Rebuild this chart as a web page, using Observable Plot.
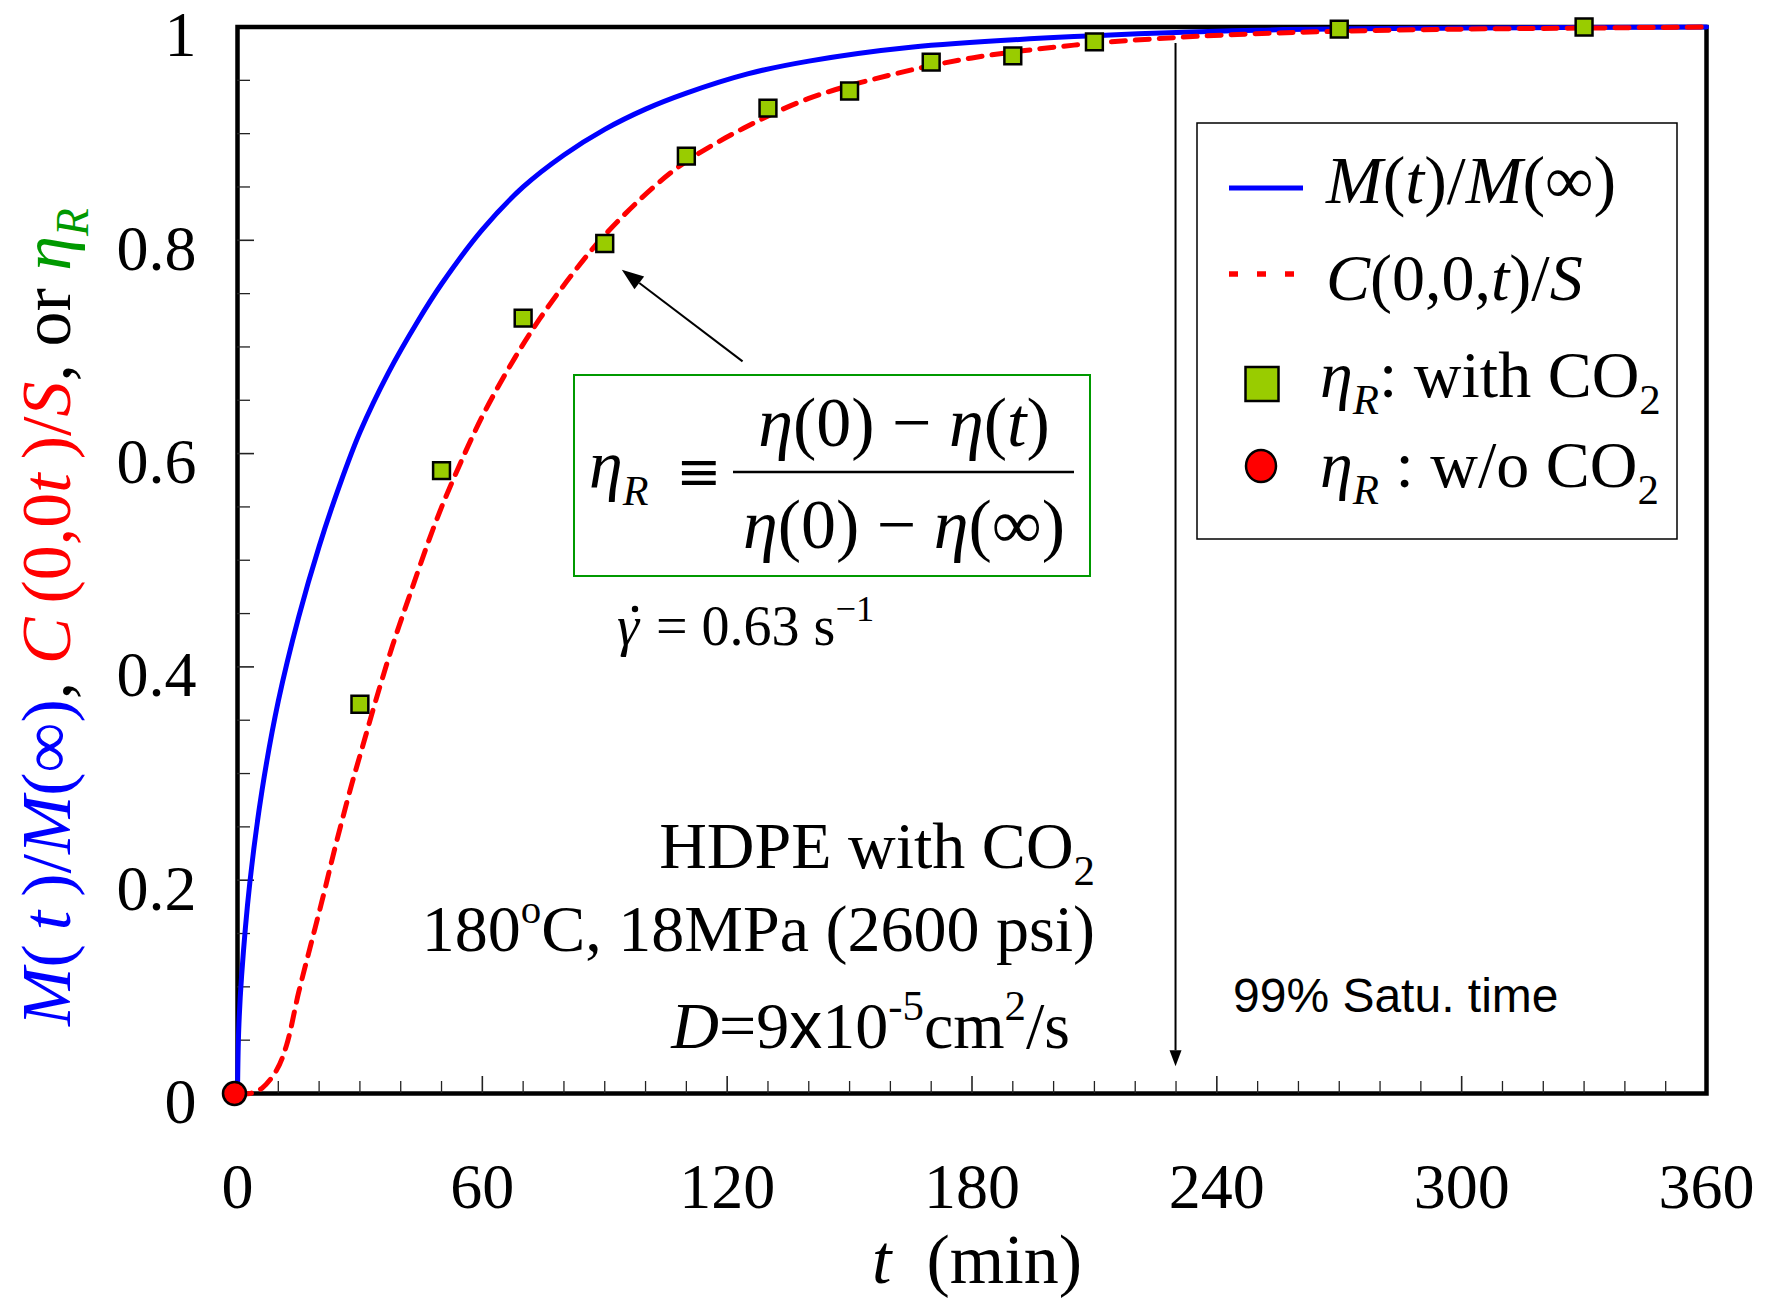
<!DOCTYPE html>
<html><head><meta charset="utf-8">
<script src="https://cdn.jsdelivr.net/npm/d3@7"></script>
<script src="https://cdn.jsdelivr.net/npm/@observablehq/plot@0.6"></script>
<style>
body{margin:0;background:#fff;}
#chart{width:1773px;height:1299px;}
</style></head><body><div id="chart"></div>
<script>
// ---- data ----
const blueT = [0, 0.3, 1, 3, 6, 10, 15, 20, 25, 30, 37, 44, 50, 60, 70, 80, 90, 100, 110, 125, 140, 165, 205, 250, 300, 360];
const blueV = [0, 0.06, 0.11, 0.197, 0.284, 0.368, 0.447, 0.513, 0.57, 0.62, 0.676, 0.723, 0.759, 0.81, 0.85, 0.88, 0.904, 0.923, 0.938, 0.956, 0.968, 0.981, 0.991, 0.997, 0.999, 1.0];
const redT = [0, 3, 6, 9.6, 12, 15, 18, 21, 24, 28, 31, 34, 38, 42, 48, 52, 60, 68, 74, 82, 90, 102, 110, 124, 140, 160, 180, 205, 225, 245, 270, 300, 330, 360];
const redV = [0, 0, 0.005, 0.022, 0.045, 0.095, 0.14, 0.185, 0.232, 0.29, 0.33, 0.37, 0.42, 0.465, 0.53, 0.568, 0.635, 0.69, 0.726, 0.768, 0.805, 0.85, 0.874, 0.905, 0.933, 0.955, 0.971, 0.983, 0.989, 0.993, 0.996, 0.998, 0.999, 1.0];
const withCO2T = [30, 50, 70, 90, 110, 130, 150, 170, 190, 210, 270, 330];
const withCO2V = [0.365, 0.584, 0.727, 0.797, 0.879, 0.924, 0.940, 0.967, 0.973, 0.986, 0.998, 1.0];
const withoutCO2T = [0];
const withoutCO2V = [0];
const xTickValues = [0, 60, 120, 180, 240, 300, 360];
const xTickLabels = ["0", "60", "120", "180", "240", "300", "360"];
const yTickValues = [0, 0.2, 0.4, 0.6, 0.8, 1];
const yTickLabels = ["0", "0.2", "0.4", "0.6", "0.8", "1"];
const saturationTime = 230;

// ---- build tables ----
const blue = blueT.map((t, i) => ({t, v: blueV[i]}));
const red = redT.map((t, i) => ({t, v: redV[i]}));
const sq = withCO2T.map((t, i) => ({t, v: withCO2V[i]}));
const circ = withoutCO2T.map((t, i) => ({t, v: withoutCO2V[i]}));
const xTicks = xTickValues.map((v, i) => ({v, label: xTickLabels[i]}));
const yTicks = yTickValues.map((v, i) => ({v, label: yTickLabels[i]}));
const xMinor = d3.range(10, 360, 10).filter(d => d % 60 !== 0);
const xMajor = [60, 120, 180, 240, 300];
const yMinor = d3.range(0.05, 1, 0.05).filter(d => Math.abs(d / 0.2 - Math.round(d / 0.2)) > 1e-6);
const yMajor = [0.2, 0.4, 0.6, 0.8];

const W = 1773, H = 1299, mL = 237, mR = 67, mT = 26.5, mB = 206;
const plotW = W - mL - mR, plotH = H - mT - mB;
const serif = "'Liberation Serif','Times New Roman',serif";
const sans = "'Liberation Sans',Arial,sans-serif";

const chart = Plot.plot({
  width: W, height: H,
  marginLeft: mL, marginRight: mR, marginTop: mT, marginBottom: mB,
  x: {domain: [0, 360], axis: null},
  y: {domain: [0, 1], axis: null},
  style: {fontFamily: serif, background: "white", color: "black"},
  marks: [
    Plot.frame({stroke: "black", strokeWidth: 4.5}),
    Plot.tickX(xMinor, {x: d => d, insetTop: plotH - 12, stroke: "#222", strokeWidth: 1.3}),
    Plot.tickX(xMajor, {x: d => d, insetTop: plotH - 17, stroke: "#222", strokeWidth: 1.6}),
    Plot.tickY(yMinor, {y: d => d, insetRight: plotW - 13, stroke: "#222", strokeWidth: 1.3}),
    Plot.tickY(yMajor, {y: d => d, insetRight: plotW - 17, stroke: "#222", strokeWidth: 1.6}),
    Plot.text(xTicks, {x: "v", text: "label", frameAnchor: "bottom", dy: 114, fontSize: 64, fill: "black"}),
    Plot.text(yTicks, {y: "v", text: "label", frameAnchor: "left", textAnchor: "end", dx: -41, dy: 9, fontSize: 64, fill: "black"}),
    Plot.line(blue, {x: "t", y: "v", stroke: "#0000ff", strokeWidth: 5, curve: "catmull-rom"}),
    Plot.line(red, {x: "t", y: "v", stroke: "#ff0000", strokeWidth: 5, strokeDasharray: "14,10", curve: "catmull-rom"}),
    Plot.dot(sq, {x: "t", y: "v", symbol: "square", r: 9.5, fill: "#99cc00", stroke: "black", strokeWidth: 2.5}),
    Plot.dot(circ, {x: "t", y: "v", r: 11.5, dx: -3, fill: "#ff0000", stroke: "black", strokeWidth: 2.5})
  ]
});
document.getElementById("chart").appendChild(chart);

const xs = chart.scale("x"), ys = chart.scale("y");
const X = d => xs.apply(d), Y = d => ys.apply(d);
const svg = d3.select(chart);
const g = svg.append("g");

function rich(parent, x, y, size, parts, opts = {}) {
  const t = parent.append("text").attr("x", x).attr("y", y)
    .attr("font-size", size).attr("font-family", opts.family || serif)
    .attr("fill", opts.fill || "#000").attr("text-anchor", opts.anchor || "start");
  if (opts.transform) t.attr("transform", opts.transform);
  let shift = 0;
  for (const p of parts) {
    const [str, st = {}] = Array.isArray(p) ? p : [p];
    const target = st.sub ? size * 0.25 : st.sup ? -size * 0.42 : 0;
    const s = t.append("tspan").text(str).attr("dy", target - shift);
    shift = target;
    if (st.sub || st.sup) s.attr("font-size", size * (st.scale || 0.65));
    if (st.size) s.attr("font-size", st.size);
    if (st.i) s.attr("font-style", "italic");
    if (st.c) s.attr("fill", st.c);
    if (st.f) s.attr("font-family", st.f);
    if (st.b) s.attr("font-weight", "bold");
  }
  return t;
}

// y-axis title (rotated, multicolour)
const BL = "#0000ff", RD = "#ff0000", GR = "#009900";
rich(g, 0, 0, 70, [
  ["M", {i: true, c: BL}], ["(\u2009", {c: BL}], ["t", {i: true, c: BL}], ["\u2009)/", {c: BL}], ["M", {i: true, c: BL}], ["(∞)", {c: BL}],
  [", "],
  ["C", {i: true, c: RD}], ["\u2009(0,0", {c: RD}], ["t", {i: true, c: RD}], ["\u2009)/", {c: RD}], ["S", {i: true, c: RD}],
  [", or "],
  ["η", {i: true, c: GR}], ["R", {i: true, c: GR, sub: true}]
], {anchor: "middle", transform: "translate(70,617) rotate(-90)"});

// x-axis title
rich(g, 872, 1283, 70, [["t", {i: true}], ["  (min)"]]);

// 99% saturation arrow
const ax = X(saturationTime);
g.append("line").attr("x1", ax).attr("x2", ax).attr("y1", Y(0.9845)).attr("y2", Y(0.04))
  .attr("stroke", "black").attr("stroke-width", 2);
g.append("path").attr("d", `M${ax - 6},${Y(0.04)} L${ax + 6},${Y(0.04)} L${ax},${Y(0.025)} Z`).attr("fill", "black");
rich(g, 1233, 1012, 48, [["99% Satu. time"]], {family: sans});

// annotation arrow pointing to the data
{
  const x1 = X(123.9), y1 = Y(0.686), x2 = X(94.3), y2 = Y(0.772);
  const ang = Math.atan2(y2 - y1, x2 - x1), L = 22, Wd = 8;
  const bx = x2 - L * Math.cos(ang), by = y2 - L * Math.sin(ang);
  g.append("line").attr("x1", x1).attr("y1", y1).attr("x2", bx).attr("y2", by).attr("stroke", "black").attr("stroke-width", 2);
  const px = -Math.sin(ang) * Wd, py = Math.cos(ang) * Wd;
  g.append("path").attr("d", `M${x2},${y2} L${bx + px},${by + py} L${bx - px},${by - py} Z`).attr("fill", "black");
}

// equation box
g.append("rect").attr("x", 574).attr("y", 375).attr("width", 516).attr("height", 201)
  .attr("fill", "white").attr("stroke", GR).attr("stroke-width", 2);
rich(g, 589, 488, 68, [["η", {i: true}], ["R", {i: true, sub: true, scale: 0.62}]]);
rich(g, 676, 490, 54, [["≡"]], {family: "'DejaVu Serif',serif"});
g.append("line").attr("x1", 733).attr("x2", 1074).attr("y1", 472).attr("y2", 472).attr("stroke", "black").attr("stroke-width", 2.5);
rich(g, 904, 446, 70, [["η", {i: true}], ["(0) − "], ["η", {i: true}], ["("], ["t", {i: true}], [")"]], {anchor: "middle"});
rich(g, 904, 548, 70, [["η", {i: true}], ["(0) − "], ["η", {i: true}], ["(∞)"]], {anchor: "middle"});
rich(g, 617, 645, 56, [["γ", {i: true}]]);
g.append("circle").attr("cx", 635).attr("cy", 609).attr("r", 3.2).attr("fill", "black");
rich(g, 656, 645, 56, [["= 0.63 s"], ["−1", {sup: true}]]);

// condition texts
rich(g, 1095, 868, 66, [["HDPE with CO"], ["2", {sub: true}]], {anchor: "end"});
rich(g, 1095, 951, 66, [["180"], ["o", {sup: true, scale: 0.62}], ["C, 18MPa (2600 psi)"]], {anchor: "end"});
rich(g, 1070, 1048, 66, [["D", {i: true}], ["="], ["9"], ["x", {f: sans}], ["10"], ["-5", {sup: true}], ["cm"], ["2", {sup: true}], ["/s"]], {anchor: "end"});

// legend
g.append("rect").attr("x", 1197).attr("y", 123).attr("width", 480).attr("height", 416)
  .attr("fill", "white").attr("stroke", "black").attr("stroke-width", 1.5);
g.append("line").attr("x1", 1229).attr("x2", 1303).attr("y1", 188).attr("y2", 188).attr("stroke", BL).attr("stroke-width", 5);
rich(g, 1326, 203, 68, [["M", {i: true}], ["("], ["t", {i: true}], [")/"], ["M", {i: true}], ["(∞)"]]);
g.append("line").attr("x1", 1229).attr("x2", 1300).attr("y1", 274).attr("y2", 274).attr("stroke", RD).attr("stroke-width", 5.5).attr("stroke-dasharray", "9,19");
rich(g, 1326, 300, 66, [["C", {i: true}], ["(0,0,"], ["t", {i: true}], [")/"], ["S", {i: true}]]);
g.append("rect").attr("x", 1262 - 16.5).attr("y", 384 - 17).attr("width", 33).attr("height", 34)
  .attr("fill", "#99cc00").attr("stroke", "black").attr("stroke-width", 2.5);
rich(g, 1320, 397, 66, [["η", {i: true}], ["R", {i: true, sub: true}], [": with CO"], ["2", {sub: true}]]);
g.append("ellipse").attr("cx", 1261).attr("cy", 466).attr("rx", 15).attr("ry", 16)
  .attr("fill", "#ff0000").attr("stroke", "black").attr("stroke-width", 2.5);
rich(g, 1320, 487, 66, [["η", {i: true}], ["R", {i: true, sub: true}], [" : w/o CO"], ["2", {sub: true}]]);
</script>
</body></html>
